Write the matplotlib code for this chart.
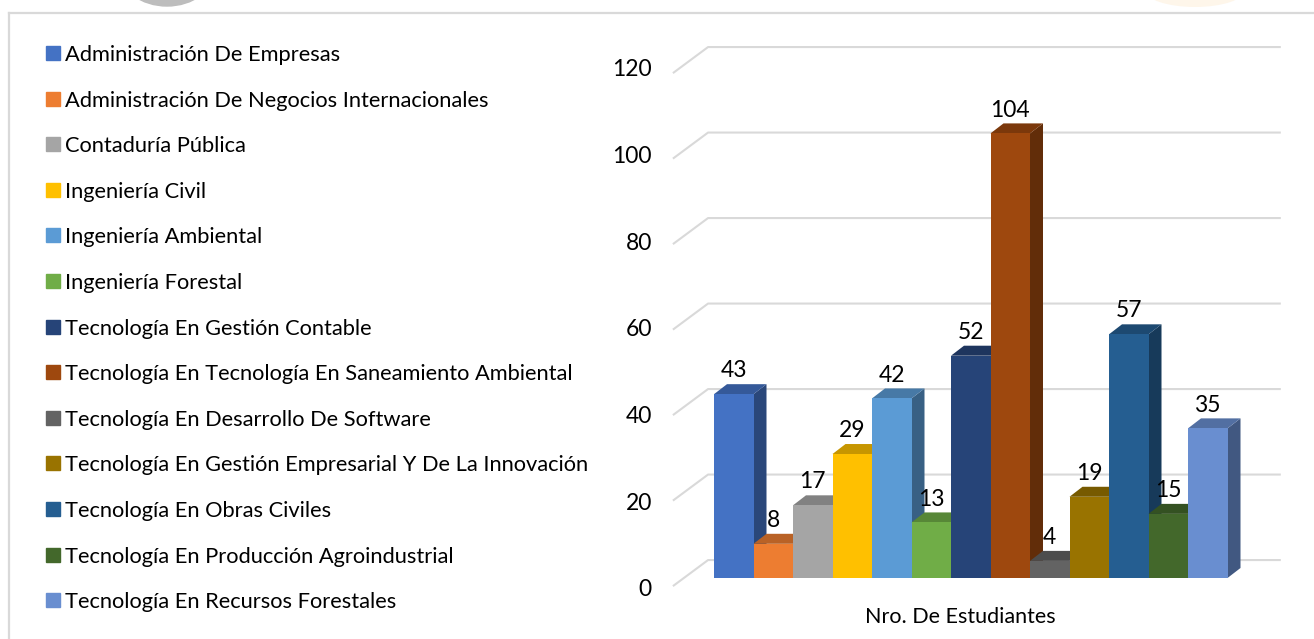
#! /usr/bin/env python
import matplotlib; matplotlib.use("agg")
import matplotlib.pyplot as plt
from matplotlib.patches import Polygon, Rectangle, Ellipse
from matplotlib.lines import Line2D
from matplotlib.colors import to_rgb

programas = [
    "Administración De Empresas",
    "Administración De Negocios Internacionales",
    "Contaduría Pública",
    "Ingeniería Civil",
    "Ingeniería Ambiental",
    "Ingeniería Forestal",
    "Tecnología En Gestión Contable",
    "Tecnología En Tecnología En Saneamiento Ambiental",
    "Tecnología En Desarrollo De Software",
    "Tecnología En Gestión Empresarial Y De La Innovación",
    "Tecnología En Obras Civiles",
    "Tecnología En Producción Agroindustrial",
    "Tecnología En Recursos Forestales",
]
estudiantes = [43, 8, 17, 29, 42, 13, 52, 104, 4, 19, 57, 15, 35]
colores = ["#4472C4", "#ED7D31", "#A5A5A5", "#FFC000", "#5B9BD5", "#70AD47",
           "#264478", "#9E480E", "#636363", "#997300", "#255E91", "#43682B",
           "#698ED0"]
ticks_y = [0, 20, 40, 60, 80, 100, 120]
categoria = "Nro. De Estudiantes"

plt.rcParams['font.family'] = ['Lato', 'DejaVu Sans']

W, H = 1314, 639
fig = plt.figure(figsize=(W / 100, H / 100), dpi=100)

def fx(px):
    return px / W

def fy(py):
    return 1 - py / H

def shade(c, f):
    r, g, b = to_rgb(c)
    return (r * f, g * f, b * f)

# axes: one bar = 39.5 px, one student = 4.275 px
x0, y0, sx, sy = 714, 578, 39.5, 4.275
left, right, top, bottom = 600, 1300, 20, 630
ax = fig.add_axes([fx(left), fy(bottom), (right - left) / W, (bottom - top) / H])
ax.set_xlim((left - x0) / sx, (right - x0) / sx)
ax.set_ylim((y0 - bottom) / sy, (y0 - top) / sy)
ax.axis('off')

ddx, ddy = 13 / sx, 10 / sy          # bar depth
n = len(estudiantes)

# back wall gridlines + side wall diagonals
for v in ticks_y:
    ax.plot([-1.04, -0.15, n + 1.35], [v - 1.9, v + 4.2, v + 4.2],
            color='#d9d9d9', lw=1.5, zorder=1, solid_capstyle='butt')
    ax.text(-1.57, v * 1.0136 - 2.8, str(v), ha='right', va='center',
            fontsize=16.5, color='black')

# 3d-looking bars, painted left to right
for i, (v, c) in enumerate(zip(estudiantes, colores)):
    side = [(i + 1, 0), (i + 1 + ddx, ddy), (i + 1 + ddx, v + ddy), (i + 1, v)]
    topf = [(i, v), (i + ddx, v + ddy), (i + 1 + ddx, v + ddy), (i + 1, v)]
    ax.add_patch(Polygon(side, closed=True, color=shade(c, 0.62), lw=0, zorder=2 + 2 * i))
    ax.add_patch(Polygon(topf, closed=True, color=shade(c, 0.78), lw=0, zorder=2 + 2 * i))
    ax.bar(i, v, width=1, align='edge', color=c, lw=0, zorder=3 + 2 * i)
    ax.text(i + 0.5, v + ddy + 1.6, str(v), ha='center', va='baseline',
            fontsize=16.5, color='black', zorder=100)

ax.text(6.23, -9.1, categoria, ha='center', va='center', fontsize=15.5, color='black')

# legend on the left
for k, (name, c) in enumerate(zip(programas, colores)):
    yc = 53 + k * 45.6
    fig.patches.append(Rectangle((fx(46), fy(yc + 7)), 14 / W, 14 / H,
                                 transform=fig.transFigure, color=c))
    fig.text(fx(65), fy(yc), name, va='center_baseline', fontsize=15.75, color='black')

# page decorations and chart border
fig.patches.append(Ellipse((fx(167), fy(-30)), 95 / W, 72 / H,
                           transform=fig.transFigure, color='#bdbdbd'))
fig.patches.append(Ellipse((fx(1195), fy(-10)), 100 / W, 34 / H,
                           transform=fig.transFigure, color='#fef0dc', alpha=0.6, lw=0))
fig.add_artist(Line2D([fx(9), 1], [fy(13), fy(13)], color='#d9d9d9', lw=1.6))
fig.add_artist(Line2D([fx(9), fx(9)], [fy(13), 0], color='#d9d9d9', lw=1.6))

plt.savefig("out.png", dpi=100)
